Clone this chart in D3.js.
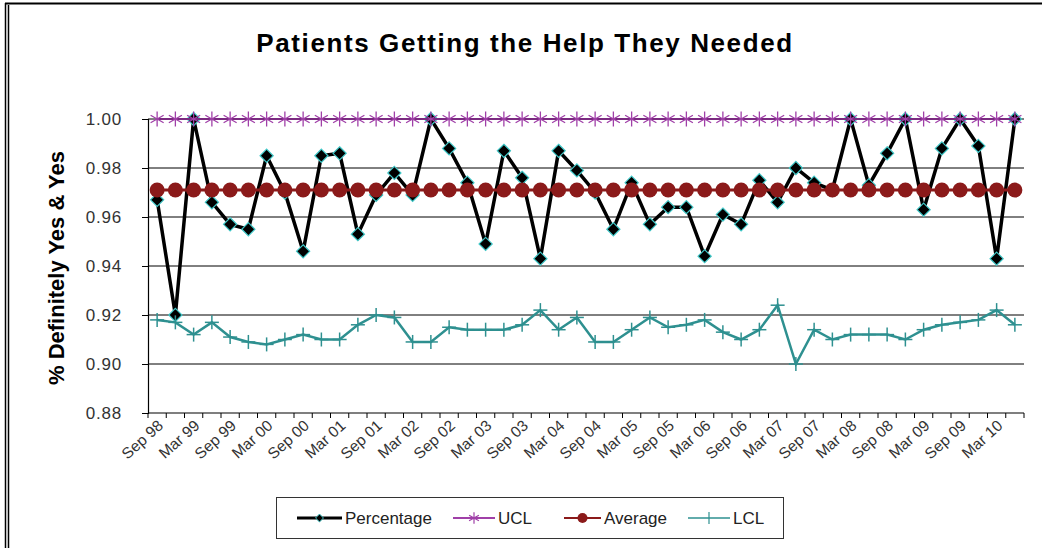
<!DOCTYPE html>
<html>
<head>
<meta charset="utf-8">
<script src="https://cdn.jsdelivr.net/npm/d3@7"></script>
<style>
  body { margin: 0; background: #fff; }
  svg { display: block; font-family: "Liberation Sans", Arial, sans-serif; }
</style>
</head>
<body>
<svg id="chart" width="1042" height="548"></svg>
<script>
// quarterly periods, Sep 98 .. Jun 10
const periods = [];
const monthNames = ["Mar", "Jun", "Sep", "Dec"];
for (let i = 0; i < 48; i++) {
  const m = (2 + i) % 4;
  const yr = 98 + Math.floor((2 + i) / 4);
  periods.push(monthNames[m] + " " + String(yr % 100).padStart(2, "0"));
}

const percentage = [0.967, 0.920, 1.000, 0.966, 0.957, 0.955, 0.985, 0.970, 0.946, 0.985,
  0.986, 0.953, 0.969, 0.978, 0.969, 1.000, 0.988, 0.974, 0.949, 0.987,
  0.976, 0.943, 0.987, 0.979, 0.970, 0.955, 0.974, 0.957, 0.964, 0.964,
  0.944, 0.961, 0.957, 0.975, 0.966, 0.980, 0.974, 0.971, 1.000, 0.973,
  0.986, 1.000, 0.963, 0.988, 1.000, 0.989, 0.943, 1.000];
const ucl = new Array(48).fill(1.00);
const average = new Array(48).fill(0.971);
const lcl = [0.918, 0.917, 0.912, 0.917, 0.911, 0.909, 0.908, 0.910, 0.912, 0.910,
  0.910, 0.916, 0.920, 0.919, 0.909, 0.909, 0.915, 0.914, 0.914, 0.914,
  0.916, 0.922, 0.914, 0.919, 0.909, 0.909, 0.914, 0.919, 0.915, 0.916,
  0.918, 0.913, 0.910, 0.914, 0.924, 0.900, 0.914, 0.910, 0.912, 0.912,
  0.912, 0.910, 0.914, 0.916, 0.917, 0.918, 0.922, 0.916];
const yTicks = [0.88, 0.90, 0.92, 0.94, 0.96, 0.98, 1.00];

const svg = d3.select("#chart");
const plotLeft = 148, plotRight = 1024, plotTop = 119, plotBottom = 413;

// outer frame
svg.append("line").attr("x1", 5).attr("x2", 1042).attr("y1", 3.5).attr("y2", 3.5)
  .attr("stroke", "#000").attr("stroke-width", 2);
svg.append("line").attr("x1", 5.5).attr("x2", 5.5).attr("y1", 3).attr("y2", 548)
  .attr("stroke", "#000").attr("stroke-width", 1.5);
svg.append("line").attr("x1", 8.5).attr("x2", 8.5).attr("y1", 5).attr("y2", 548)
  .attr("stroke", "#000").attr("stroke-width", 1.5);

const x = d3.scaleBand().domain(periods).range([plotLeft, plotRight]);
const y = d3.scaleLinear().domain([0.88, 1.00]).range([plotBottom, plotTop]);
const cx = d => x(d) + x.bandwidth() / 2;

// title
svg.append("text").attr("x", 525).attr("y", 52).attr("text-anchor", "middle")
  .attr("font-size", 26).attr("font-weight", "bold").attr("letter-spacing", 1.6)
  .text("Patients Getting the Help They Needed");

// gridlines
svg.append("g").selectAll("line").data(yTicks.filter(t => t > 0.88)).join("line")
  .attr("x1", plotLeft).attr("x2", plotRight).attr("y1", d => y(d)).attr("y2", d => y(d))
  .attr("stroke", "#000").attr("stroke-width", 1);

// y axis
const yAxis = svg.append("g").attr("transform", `translate(${plotLeft},0)`)
  .call(d3.axisLeft(y).tickValues(yTicks).tickFormat(d3.format(".2f")).tickSizeOuter(0).tickSize(6).tickPadding(20));
yAxis.select(".domain").attr("stroke-width", 1.2);
yAxis.selectAll("text").attr("font-size", 17).attr("fill", "#333").attr("letter-spacing", 0.8)
  .attr("font-family", "'Liberation Sans', Arial, sans-serif");

svg.append("text").attr("transform", "translate(64,268) rotate(-90)")
  .attr("text-anchor", "middle").attr("font-size", 22).attr("font-weight", "bold")
  .attr("font-family", "'Liberation Sans Narrow', 'Liberation Sans', Arial, sans-serif")
  .text("% Definitely Yes & Yes");

// x axis: ticks between categories
const xg = svg.append("g");
xg.append("line").attr("x1", plotLeft).attr("x2", plotRight).attr("y1", plotBottom).attr("y2", plotBottom)
  .attr("stroke", "#000").attr("stroke-width", 1.2);
const bounds = periods.map(p => x(p)).concat([plotRight]);
xg.selectAll("line.tk").data(bounds).join("line").attr("class", "tk")
  .attr("x1", d => d).attr("x2", d => d).attr("y1", plotBottom).attr("y2", plotBottom + 5)
  .attr("stroke", "#000");
xg.selectAll("text").data(periods.filter((p, i) => i % 2 === 0)).join("text")
  .attr("transform", d => `translate(${cx(d) + 7},${plotBottom + 14}) rotate(-42)`)
  .attr("text-anchor", "end").attr("font-size", 15.5).attr("fill", "#333").text(d => d);

const line = d3.line().x((d, i) => cx(periods[i])).y(d => y(d));

// Percentage
svg.append("path").datum(percentage).attr("d", line).attr("fill", "none")
  .attr("stroke", "#000").attr("stroke-width", 3.5).attr("stroke-linejoin", "miter");
const diamond = d3.symbol().type(d3.symbolDiamond2).size(110);
svg.append("g").selectAll("path").data(percentage).join("path")
  .attr("transform", (d, i) => `translate(${cx(periods[i])},${y(d)})`)
  .attr("d", diamond).attr("fill", "#000").attr("stroke", "#3fc7c7").attr("stroke-width", 1.2);

// UCL
const uclColor = "#a040a8";
svg.append("path").datum(ucl).attr("d", line).attr("fill", "none")
  .attr("stroke", "#7a2a80").attr("stroke-width", 2);
const star = d3.symbol().type(d3.symbolAsterisk).size(160);
svg.append("g").selectAll("path").data(ucl).join("path")
  .attr("transform", (d, i) => `translate(${cx(periods[i])},${y(d)})`)
  .attr("d", star).attr("fill", "none").attr("stroke", uclColor).attr("stroke-width", 1.3);

// Average
const avgColor = "#8b1a1a";
svg.append("path").datum(average).attr("d", line).attr("fill", "none")
  .attr("stroke", avgColor).attr("stroke-width", 3);
svg.append("g").selectAll("circle").data(average).join("circle")
  .attr("cx", (d, i) => cx(periods[i])).attr("cy", d => y(d)).attr("r", 7.5)
  .attr("fill", avgColor);

// LCL
const lclColor = "#2e9090";
svg.append("path").datum(lcl).attr("d", line).attr("fill", "none")
  .attr("stroke", lclColor).attr("stroke-width", 2.5);
svg.append("g").selectAll("g").data(lcl).join("g")
  .attr("transform", (d, i) => `translate(${cx(periods[i])},${y(d)})`)
  .each(function() {
    const g = d3.select(this);
    g.append("line").attr("x1", -7).attr("x2", 7).attr("stroke", lclColor).attr("stroke-width", 1.5);
    g.append("line").attr("y1", -7).attr("y2", 7).attr("stroke", lclColor).attr("stroke-width", 1.5);
  });

// legend
const lg = svg.append("g");
lg.append("rect").attr("x", 276.5).attr("y", 497.5).attr("width", 507).attr("height", 41)
  .attr("fill", "#fff").attr("stroke", "#333").attr("stroke-width", 1);
const items = [
  {name: "Percentage", x0: 297, x1: 342, color: "#000", w: 3},
  {name: "UCL", x0: 453, x1: 495, color: uclColor, w: 2},
  {name: "Average", x0: 564, x1: 601, color: avgColor, w: 2},
  {name: "LCL", x0: 688, x1: 730, color: lclColor, w: 1.5}
];
const ly = 518;
items.forEach((it, k) => {
  const mx = (it.x0 + it.x1) / 2;
  lg.append("line").attr("x1", it.x0).attr("x2", it.x1).attr("y1", ly).attr("y2", ly)
    .attr("stroke", it.color).attr("stroke-width", it.w);
  if (k === 0) {
    lg.append("path").attr("transform", `translate(${mx},${ly})`)
      .attr("d", d3.symbol().type(d3.symbolDiamond2).size(40)).attr("fill", "#000")
      .attr("stroke", "#3fc7c7").attr("stroke-width", 1);
  } else if (k === 1) {
    lg.append("path").attr("transform", `translate(${mx},${ly})`)
      .attr("d", d3.symbol().type(d3.symbolAsterisk).size(90)).attr("fill", "none")
      .attr("stroke", it.color).attr("stroke-width", 1.2);
  } else if (k === 2) {
    lg.append("circle").attr("cx", mx).attr("cy", ly).attr("r", 5).attr("fill", it.color);
  } else {
    lg.append("line").attr("x1", mx).attr("x2", mx).attr("y1", ly - 6).attr("y2", ly + 6)
      .attr("stroke", it.color).attr("stroke-width", 1.2);
  }
  lg.append("text").attr("x", it.x1 + 3).attr("y", ly + 6).attr("font-size", 17)
    .attr("fill", "#222").text(it.name);
});
</script>
</body>
</html>
